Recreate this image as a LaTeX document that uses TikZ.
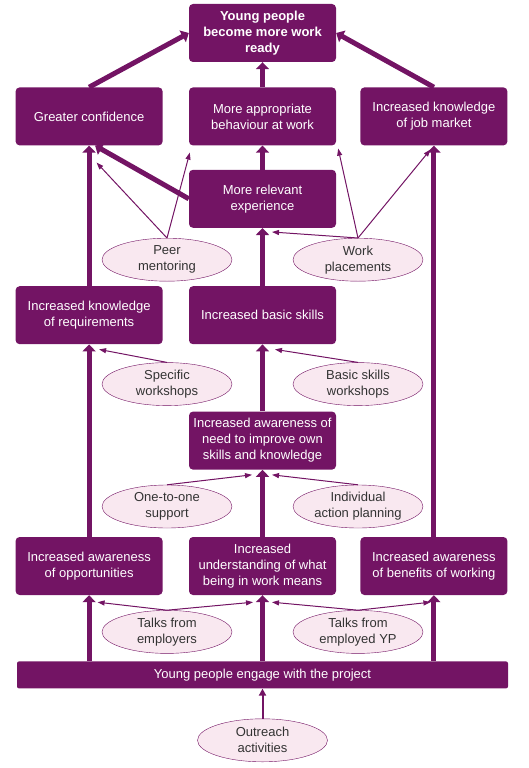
\documentclass[tikz,border=0pt]{standalone}
\usepackage{fontspec}
\setmainfont{Liberation Sans}
\usetikzlibrary{positioning,shapes.geometric,arrows.meta}
\definecolor{plum}{RGB}{115,20,100}
\definecolor{blush}{RGB}{249,232,240}
\begin{document}
\begin{tikzpicture}
	% Styles for the boxes and arrows
	\tikzstyle{outcome} = [rectangle, rounded corners=4pt, minimum width=147pt, minimum height=58pt, align=center, fill=plum, text=white, font=\fontsize{13}{16}\selectfont]
	\tikzstyle{activity} = [ellipse, minimum width=130pt, minimum height=43pt, inner sep=1pt, align=center, draw=plum, fill=blush, text=black!80, font=\fontsize{13}{16}\selectfont]
	\tikzstyle{thickarrow} = [plum, line width=5pt, -{Triangle[width=13pt,length=7pt]}]
	\tikzstyle{thinarrow} = [plum, line width=1pt, -{Triangle[width=5pt,length=7pt]}]
	\tikzstyle{midarrow} = [plum, line width=2pt, -{Triangle[width=7pt,length=7pt]}]
	\useasboundingbox (0,0) rectangle (529pt,-768pt);
	% Nodes
	\node (ready) [outcome, font=\bfseries\fontsize{13}{16}\selectfont] at (262.5pt,-33pt) {Young people\\become more work\\ready};
	\node (behav) [outcome, below=25pt of ready] {More appropriate\\behaviour at work};
	\node (conf) [outcome, left=26pt of behav] {Greater confidence};
	\node (market) [outcome, right=24pt of behav] {Increased knowledge\\of job market};
	\node (exper) [outcome, below=24pt of behav] {More relevant\\experience};
	\node (peer) [activity, below=10pt of exper.south, xshift=-95.5pt] {Peer\\mentoring};
	\node (place) [activity, below=10pt of exper.south, xshift=95.5pt] {Work\\placements};
	\node (basic) [outcome, below=58pt of exper] {Increased basic skills};
	\node (require) [outcome, left=26pt of basic] {Increased knowledge\\of requirements};
	\node (specws) [activity, below=18pt of basic.south, xshift=-95.5pt] {Specific\\workshops};
	\node (basicws) [activity, below=18pt of basic.south, xshift=95.5pt] {Basic skills\\workshops};
	\node (aware) [outcome, below=67pt of basic] {Increased awareness of\\need to improve own\\skills and knowledge};
	\node (onetoone) [activity, below=15pt of aware.south, xshift=-95.5pt] {One-to-one\\support};
	\node (planning) [activity, below=15pt of aware.south, xshift=95.5pt] {Individual\\action planning};
	\node (underst) [outcome, below=67pt of aware] {Increased\\understanding of what\\being in work means};
	\node (oppor) [outcome, left=26pt of underst] {Increased awareness\\of opportunities};
	\node (benefit) [outcome, right=24pt of underst] {Increased awareness\\of benefits of working};
	\node (employers) [activity, below=15pt of underst.south, xshift=-95.5pt] {Talks from\\employers};
	\node (employed) [activity, below=15pt of underst.south, xshift=95.5pt] {Talks from\\employed YP};
	\node (engage) [outcome, minimum width=491pt, minimum height=27pt, rounded corners=2pt, below=66pt of underst] {Young people engage with the project};
	\node (outreach) [activity, below=30pt of engage] {Outreach\\activities};
	% Thick arrows
	\draw [thickarrow] (conf.north) -- (ready.west);
	\draw [thickarrow] (behav) -- (ready);
	\draw [thickarrow] (market.north) -- (ready.east);
	\draw [thickarrow] (exper) -- (behav);
	\draw [thickarrow] (exper.west) -- ([xshift=6pt]conf.south);
	\draw [thickarrow] (require) -- (conf);
	\draw [thickarrow] (basic) -- (exper);
	\draw [thickarrow] (aware) -- (basic);
	\draw [thickarrow] (oppor) -- (require);
	\draw [thickarrow] (underst) -- (aware);
	\draw [thickarrow] (benefit) -- (market);
	\draw [thickarrow] (engage.north -| oppor.south) -- (oppor.south);
	\draw [thickarrow] (engage.north -| underst.south) -- (underst.south);
	\draw [thickarrow] (engage.north -| benefit.south) -- (benefit.south);
	\draw [midarrow] (outreach) -- (engage);
	% Thin arrows
	\draw [thinarrow] (peer.north) -- ([xshift=7.5pt,yshift=-17pt]conf.south);
	\draw [thinarrow] (peer.north) -- ([xshift=1pt,yshift=-7pt]behav.south west);
	\draw [thinarrow] (place.north) -- ([xshift=2pt,yshift=-3pt]behav.south east);
	\draw [thinarrow] (place.north) -- ([xshift=-3.5pt,yshift=-4pt]market.south);
	\draw [thinarrow] (place.north) -- ([xshift=9.5pt,yshift=-4pt]exper.south);
	\draw [thinarrow] (specws.north) -- ([xshift=10pt,yshift=-5pt]require.south);
	\draw [thinarrow] (basicws.north) -- ([xshift=12.5pt,yshift=-5pt]basic.south);
	\draw [thinarrow] (onetoone.north) -- ([xshift=-10.5pt,yshift=-5pt]aware.south);
	\draw [thinarrow] (planning.north) -- ([xshift=9.5pt,yshift=-5pt]aware.south);
	\draw [thinarrow] (employers.north) -- ([xshift=8.5pt,yshift=-7pt]oppor.south);
	\draw [thinarrow] (employers.north) -- ([xshift=-9.5pt,yshift=-7pt]underst.south);
	\draw [thinarrow] (employed.north) -- ([xshift=9.5pt,yshift=-7pt]underst.south);
	\draw [thinarrow] (employed.north) -- ([xshift=-3.5pt,yshift=-7pt]benefit.south);
\end{tikzpicture}
\end{document}
